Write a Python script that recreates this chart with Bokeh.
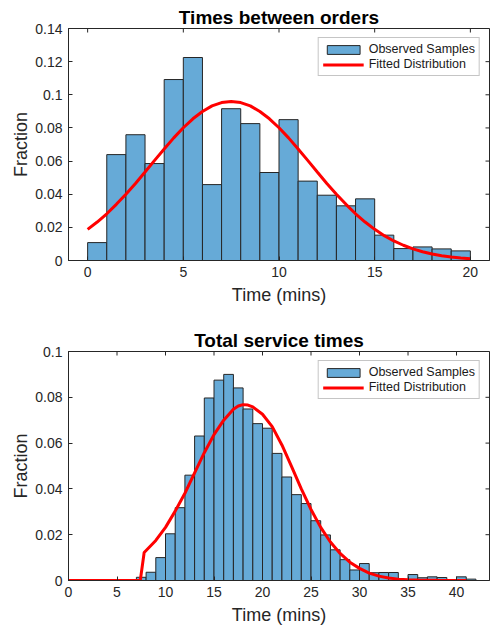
import math
from bokeh.plotting import figure
from bokeh.models import (Range1d, FixedTicker, CustomJSTickFormatter, Legend, LegendItem)
from bokeh.layouts import column
from bokeh.embed import file_html
from bokeh.resources import INLINE

FONT = "Liberation Sans"
AX = "#262626"
BAR_FILL = "#66aad7"
BAR_LINE = "#262626"
RED = "#ff0000"

# ---------------- Times between orders ----------------
order_bin_edges = [0, 1, 2, 3, 4, 5, 6, 7, 8, 9, 10, 11, 12, 13, 14, 15, 16, 17, 18, 19, 20]
order_fraction = [0.0108, 0.0639, 0.0759, 0.0585, 0.1092, 0.1225, 0.0458, 0.0916, 0.0826, 0.0531,
                  0.0850, 0.0479, 0.0394, 0.0330, 0.0372, 0.0153, 0.0072, 0.0082, 0.0070, 0.0058]
order_fit_x = [0, 0.5, 1, 1.5, 2, 2.5, 3, 3.5, 4, 4.5, 5, 5.5, 6, 6.5, 7, 7.5, 8, 8.5, 9, 9.5,
               10, 10.5, 11, 11.5, 12, 12.5, 13, 13.5, 14, 14.5, 15, 15.5, 16, 16.5, 17, 17.5,
               18, 18.5, 19, 19.5, 20]
order_fit_y = [0.0188, 0.0232, 0.0282, 0.0339, 0.0400, 0.0465, 0.0534, 0.0604, 0.0673, 0.0740,
               0.0801, 0.0855, 0.0899, 0.0933, 0.0953, 0.0960, 0.0953, 0.0933, 0.0899, 0.0855,
               0.0801, 0.0740, 0.0673, 0.0604, 0.0534, 0.0465, 0.0400, 0.0339, 0.0282, 0.0232,
               0.0188, 0.0150, 0.0118, 0.0092, 0.0070, 0.0053, 0.0039, 0.0029, 0.0021, 0.0015,
               0.0011]
order_xticks = [0, 5, 10, 15, 20]
order_yticks = [0, 0.02, 0.04, 0.06, 0.08, 0.1, 0.12, 0.14]

# ---------------- Total service times ----------------
service_bin_edges = [7, 8, 9, 10, 11, 12, 13, 14, 15, 16, 17, 18, 19, 20, 21, 22, 23, 24, 25, 26,
                     27, 28, 29, 30, 31, 32, 33, 34, 35, 36, 37, 38, 39, 40, 41, 42]
service_fraction = [0.0014, 0.0036, 0.0100, 0.0204, 0.0318, 0.0460, 0.0631, 0.0797, 0.0875, 0.0900,
                    0.0841, 0.0749, 0.0685, 0.0665, 0.0555, 0.0452, 0.0375, 0.0336, 0.0261, 0.0199,
                    0.0134, 0.0091, 0.0046, 0.0074, 0.0034, 0.0035, 0.0035, 0.0000, 0.0026, 0.0012,
                    0.0016, 0.0013, 0.0004, 0.0016, 0.0006]
service_fit_x = [0, 7.4, 7.8, 9, 10, 11, 12, 13, 14, 15, 16, 17, 17.5, 18, 18.5, 19, 20, 21, 22,
                 23, 24, 25, 26, 27, 28, 29, 30, 31, 32, 33, 34, 35, 36, 38, 41]
service_fit_y = [0, 0, 0.0122, 0.0175, 0.0232, 0.0303, 0.0381, 0.0470, 0.0558, 0.0637, 0.0700,
                 0.0748, 0.0762, 0.0768, 0.0766, 0.0758, 0.0726, 0.0672, 0.0592, 0.0497, 0.0400,
                 0.0310, 0.0232, 0.0168, 0.0118, 0.0080, 0.0053, 0.0032, 0.0019, 0.0011, 0.0006,
                 0.0003, 0.0002, 0.0001, 0.0]
service_xticks = [0, 5, 10, 15, 20, 25, 30, 35, 40]
service_yticks = [0, 0.02, 0.04, 0.06, 0.08, 0.1]

fmt_code = "return String(parseFloat(tick.toFixed(2)));"


def style_axis(ax, ticks, label):
    ax.ticker = FixedTicker(ticks=ticks)
    ax.formatter = CustomJSTickFormatter(code=fmt_code)
    ax.axis_line_color = AX
    ax.major_tick_line_color = AX
    ax.major_tick_in = 4
    ax.major_tick_out = 0
    ax.minor_tick_line_color = None
    ax.major_label_text_font = FONT
    ax.major_label_text_font_size = "14px"
    ax.major_label_text_color = AX
    ax.major_label_standoff = 6
    ax.axis_label = label
    ax.axis_label_text_font = FONT
    ax.axis_label_text_font_size = "18px"
    ax.axis_label_text_font_style = "normal"
    ax.axis_label_text_color = AX


def make_panel(title, edges, fraction, fit_x, fit_y, xr, yr, xticks, yticks,
               height, border_top, border_bottom):
    p = figure(width=490, height=height, output_backend="svg", toolbar_location=None,
               x_range=Range1d(*xr), y_range=Range1d(*yr),
               min_border_left=68, min_border_right=1,
               min_border_top=border_top, min_border_bottom=border_bottom)
    p.title.text = title
    p.title.align = "center"
    p.title.text_font = FONT
    p.title.text_font_size = "19px"
    p.title.text_font_style = "bold"
    p.title.text_color = "#000000"
    p.title.standoff = 1
    p.xgrid.visible = False
    p.ygrid.visible = False
    p.outline_line_color = AX
    p.background_fill_color = "white"
    p.border_fill_color = "white"

    bars = p.quad(left=edges[:-1], right=edges[1:], top=fraction, bottom=0,
                  fill_color=BAR_FILL, line_color=BAR_LINE, line_width=1)
    line = p.line(fit_x, fit_y, line_color=RED, line_width=3)

    style_axis(p.xaxis[0], xticks, "Time (mins)")
    style_axis(p.yaxis[0], yticks, "Fraction")
    p.xaxis[0].axis_label_standoff = 5
    p.yaxis[0].axis_label_standoff = 1

    # mirrored inward ticks on the top and right edges of the box (half clipped by the frame)
    p.scatter(x=xticks, y=[yr[1]] * len(xticks), marker="dash", size=8, angle=math.pi / 2,
              line_color=AX, line_width=1)
    p.scatter(x=[xr[1]] * len(yticks), y=yticks, marker="dash", size=8,
              line_color=AX, line_width=1)

    legend = Legend(items=[LegendItem(label="Observed Samples", renderers=[bars]),
                           LegendItem(label="Fitted Distribution", renderers=[line])],
                    location="top_right")
    legend.label_text_font = FONT
    legend.label_text_font_size = "12.5px"
    legend.label_text_color = "#1a1a1a"
    legend.glyph_width = 41
    legend.glyph_height = 11
    legend.label_height = 14
    legend.label_standoff = 5
    legend.spacing = 1
    legend.padding = 4
    legend.margin = 9
    legend.border_line_color = "#8c8c8c"
    legend.background_fill_alpha = 1
    p.add_layout(legend)
    return p


p1 = make_panel("Times between orders", order_bin_edges, order_fraction, order_fit_x, order_fit_y,
                (-1, 21), (0, 0.14), order_xticks, order_yticks, 310, 28, 50)
p2 = make_panel("Total service times", service_bin_edges, service_fraction, service_fit_x,
                service_fit_y, (0, 43.4), (0, 0.1), service_xticks, service_yticks, 317, 41, 44)

layout = column(p1, p2, spacing=0)
open("out.html", "w").write(file_html(layout, INLINE))
